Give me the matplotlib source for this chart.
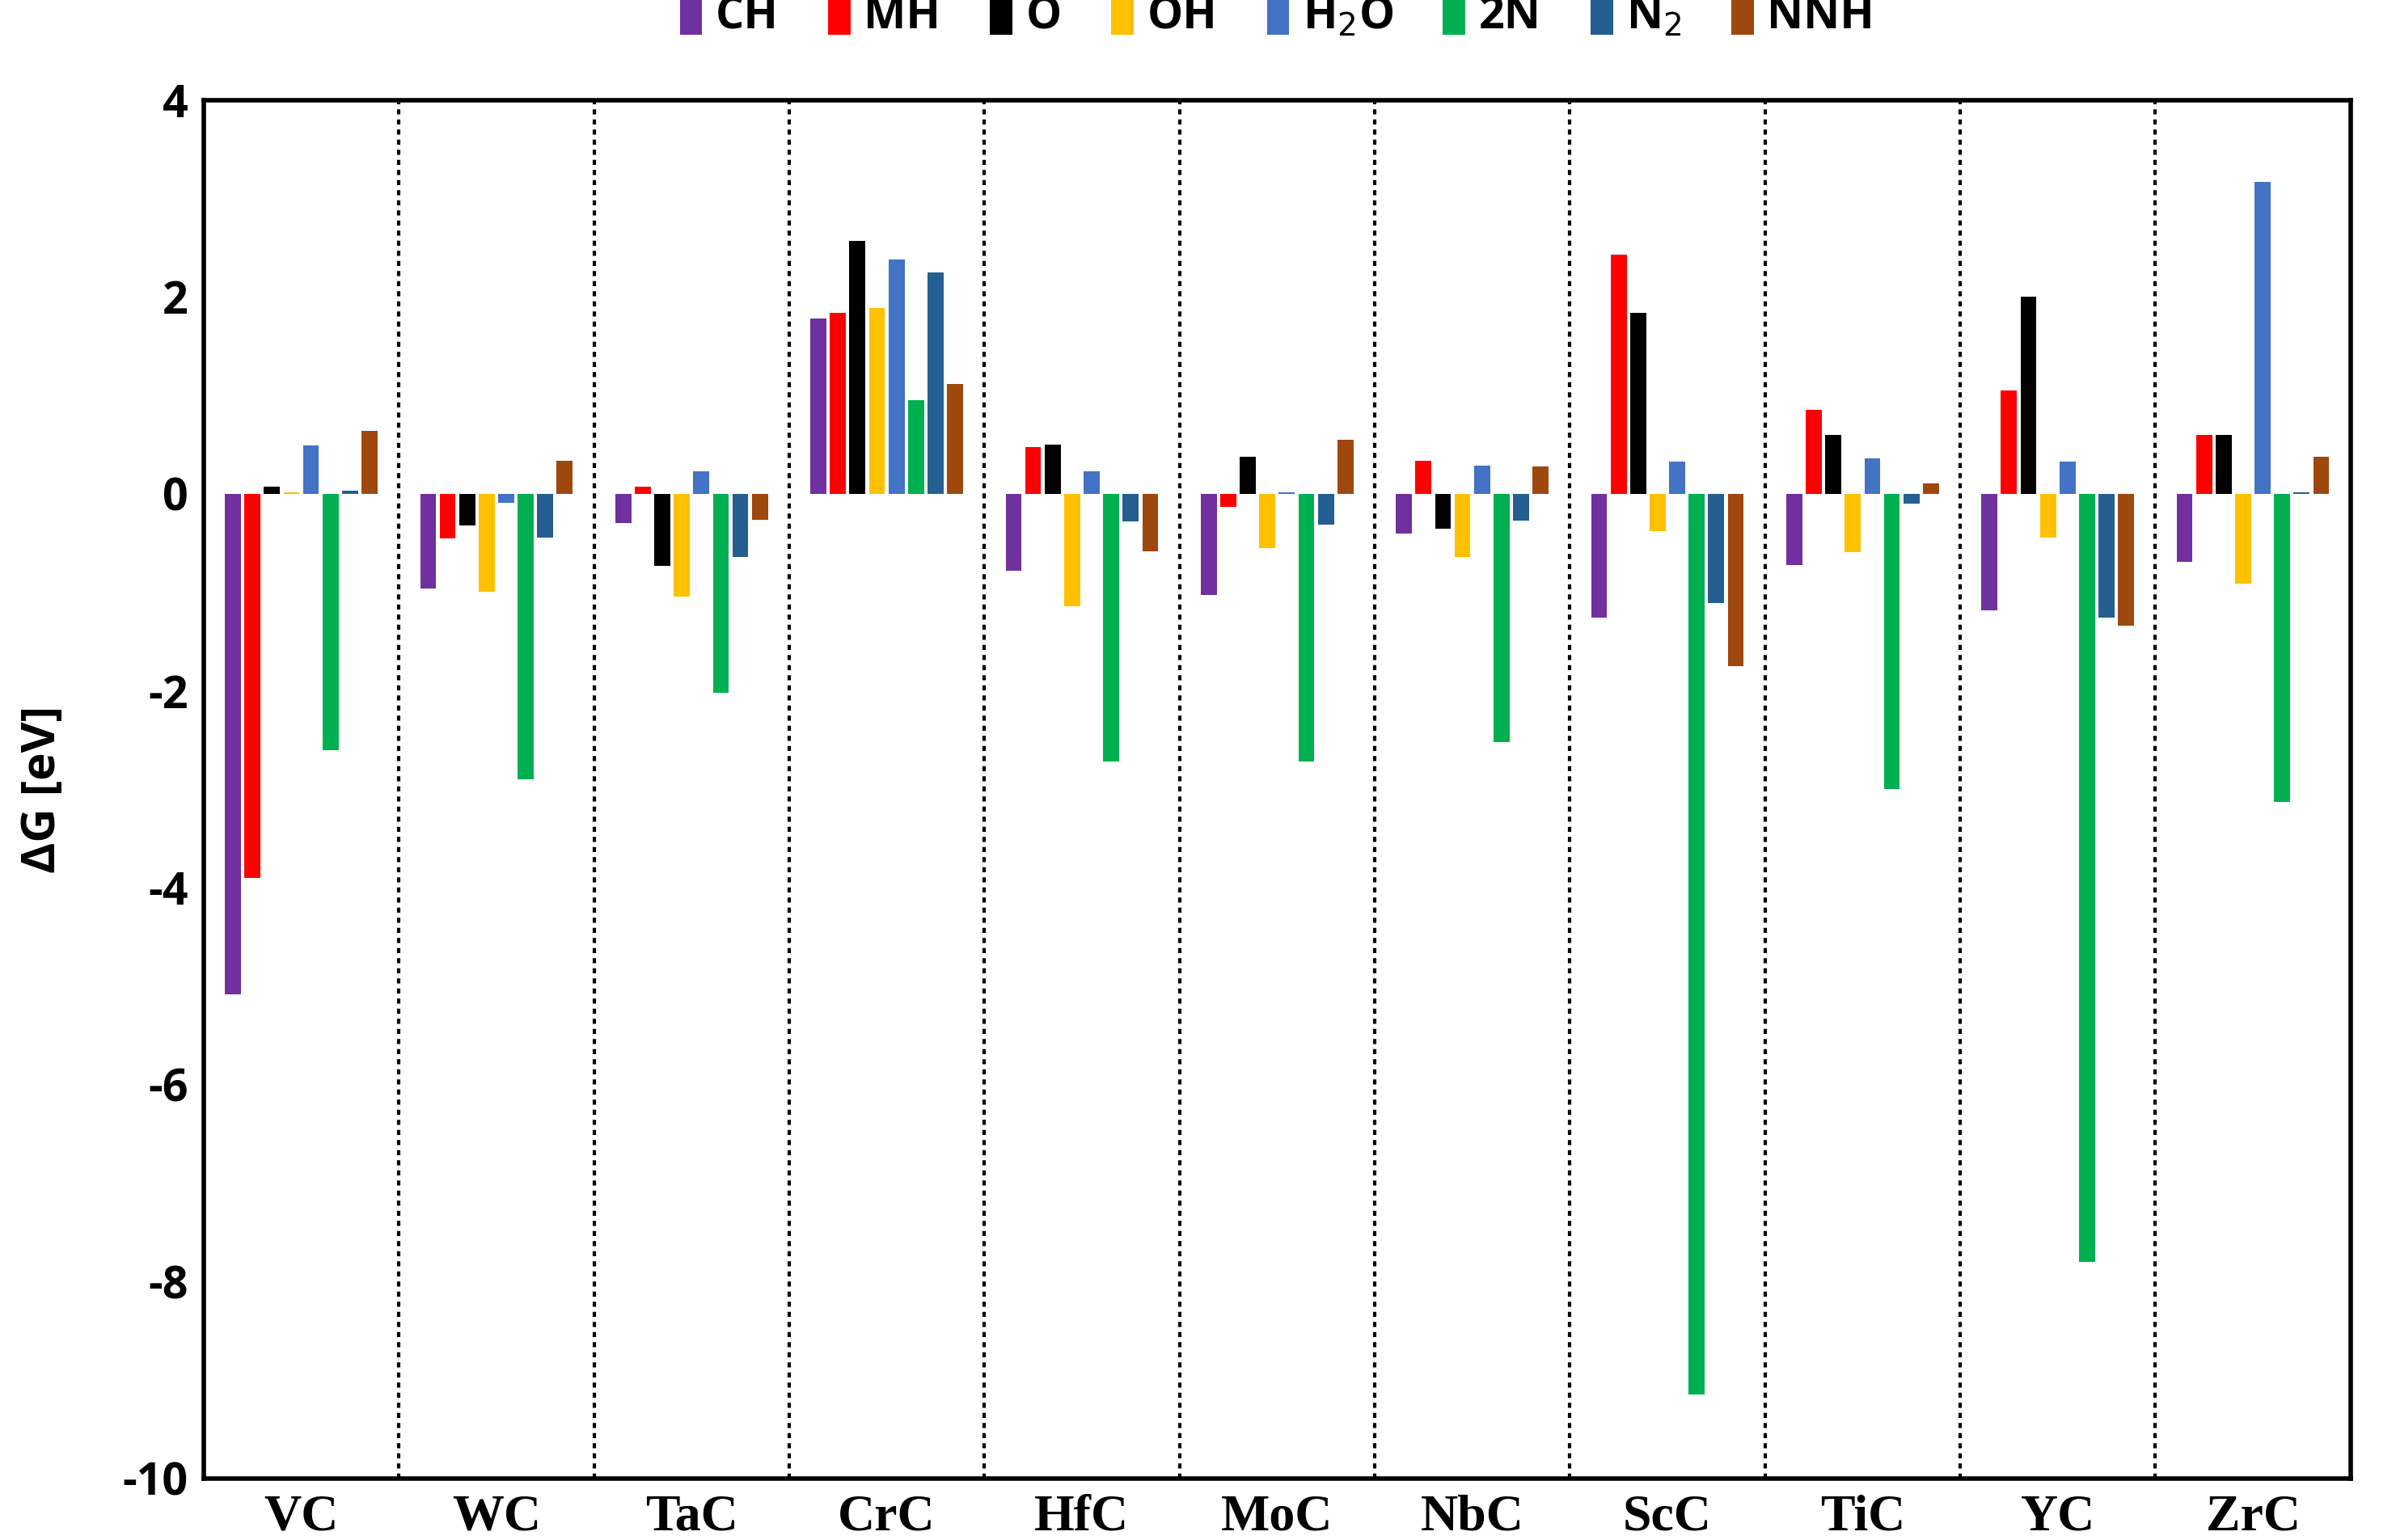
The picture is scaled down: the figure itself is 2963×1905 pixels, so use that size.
import matplotlib
matplotlib.use("Agg")
import matplotlib.pyplot as plt
import numpy as np

materials = ["VC","WC","TaC","CrC","HfC","MoC","NbC","ScC","TiC","YC","ZrC"]
series = ["CH","MH","O","OH","H$_2$O","2N","N$_2$","NNH"]
colors = ["#7030A0","#FF0000","#000000","#FFC000","#4472C4","#00B050","#255E91","#9E480E"]
CH  = [-5.08,-0.96,-0.30,1.78,-0.78,-1.03,-0.40,-1.26,-0.72,-1.18,-0.69]
MH  = [-3.90,-0.45,0.07,1.84,0.48,-0.13,0.34,2.43,0.85,1.05,0.60]
O   = [0.07,-0.32,-0.73,2.57,0.50,0.38,-0.35,1.84,0.60,2.00,0.60]
OH  = [0.02,-0.99,-1.04,1.89,-1.14,-0.55,-0.64,-0.38,-0.59,-0.44,-0.91]
H2O = [0.49,-0.09,0.23,2.38,0.23,0.02,0.29,0.33,0.36,0.33,3.17]
N2a = [-2.60,-2.90,-2.02,0.95,-2.72,-2.72,-2.52,-9.15,-3.00,-7.80,-3.13]
N2  = [0.03,-0.44,-0.64,2.25,-0.28,-0.31,-0.27,-1.11,-0.10,-1.26,0.02]
NNH = [0.64,0.34,-0.26,1.12,-0.58,0.55,0.28,-1.75,0.11,-1.34,0.38]
data = [CH,MH,O,OH,H2O,N2a,N2,NNH]

fig = plt.figure(figsize=(29.63,19.05), dpi=100)
ax = fig.add_axes([0.085,0.040,0.896,0.895])
x = np.arange(len(materials))
step = 0.1; w = 0.082
for i,(vals,c,lab) in enumerate(zip(data,colors,series)):
    ax.bar(x+(i-3.5)*step, vals, w, color=c, label=lab, zorder=3)
for b in np.arange(0.5,len(materials)-0.5,1):
    ax.axvline(b, color="black", ls=(0,(1.5,1.5)), lw=3, zorder=1)
ax.set_xlim(-0.5,len(materials)-0.5)
ax.set_ylim(-10,4)
ax.set_yticks(range(-10,5,2))
ax.set_yticklabels([str(v) for v in range(-10,5,2)], fontsize=40, fontweight="bold", family="Open Sans")
ax.set_xticks(x)
ax.set_xticklabels(materials, fontsize=46, fontweight="bold", family="Liberation Serif")
ax.tick_params(axis="both", length=0, pad=14)
for s in ax.spines.values():
    s.set_linewidth(4)
ax.set_ylabel("ΔG [eV]", fontsize=42, fontweight="bold", family="Open Sans", labelpad=50)
ax.legend(loc="lower center", bbox_to_anchor=(0.5,1.015), ncol=8, frameon=False,
          prop={"family":"Open Sans","weight":"bold","size":40},
          handlelength=0.5, handleheight=1.1, handletextpad=0.3, columnspacing=1.1)
fig.savefig("out.png", dpi=100)
